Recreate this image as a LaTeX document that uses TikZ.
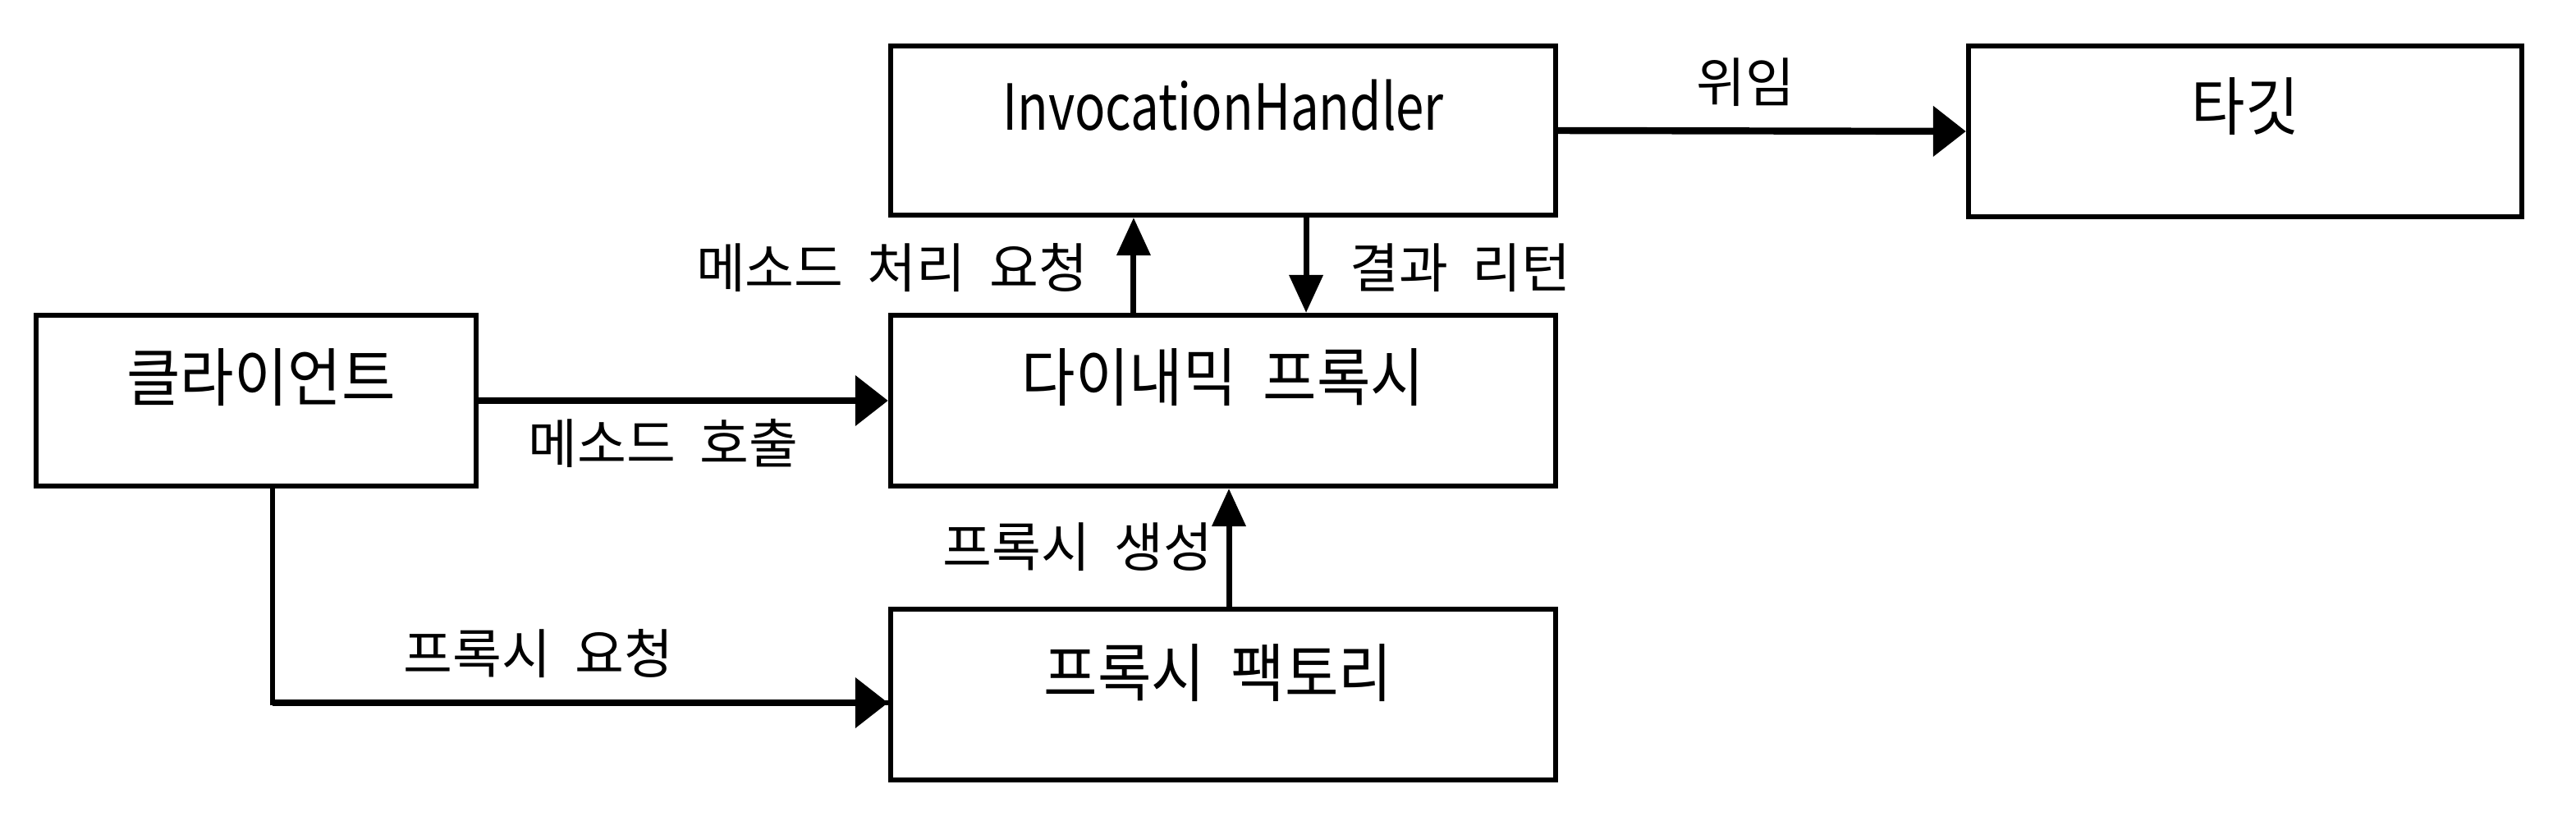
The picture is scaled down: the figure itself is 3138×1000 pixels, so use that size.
\documentclass[tikz,border=0pt]{standalone}
\usepackage{fontspec}
\usepackage{graphicx}
\setmainfont{Noto Sans CJK KR}[WordSpace=2]
\usetikzlibrary{arrows.meta}
\newcommand{\sqk}[1]{\scalebox{0.92}[1]{#1}}
\newcommand{\sql}[1]{\scalebox{0.8}[1]{#1}}
\tikzset{
  boxnode/.style={draw, line width=1.7pt, minimum width=#1, inner sep=0pt},
  boxtext/.style={font=\fontsize{22}{24}\selectfont, inner sep=0pt},
  edgetext/.style={font=\fontsize{18.5}{20}\selectfont, inner sep=0pt},
  harrow/.style={line width=2.4pt, -{Triangle[length=0.4cm, width=0.6cm]}},
  varrow/.style={line width=2.0pt, -{Triangle[length=0.46cm, width=0.4cm]}},
  plainline/.style={line width=1.8pt},
}
\begin{document}
\begin{tikzpicture}[x=0.01cm, y=-0.01cm]
\useasboundingbox (0,0) rectangle (3138,1000);
% boxes
\node[boxnode=8.1cm, minimum height=2.06cm] (ih) at (1490,159) {};
\node[boxnode=6.74cm, minimum height=2.08cm] (tg) at (2735,160) {};
\node[boxnode=5.36cm, minimum height=2.08cm] (cl) at (312,488) {};
\node[boxnode=8.1cm, minimum height=2.08cm] (dp) at (1490,488) {};
\node[boxnode=8.1cm, minimum height=2.08cm] (pf) at (1490,846) {};
% box texts
\node[boxtext] (ihT) at (1490,128) {\sql{InvocationHandler}};
\node[boxtext] (tgT) at (2735,130) {\sqk{타깃}};
\node[boxtext] (clT) at (318,460) {\sqk{클라이언트}};
\node[boxtext] (dpT) at (1490,460) {\sqk{다이내믹 프록시}};
\node[boxtext] (pfT) at (1484,820) {\sqk{프록시 팩토리}};
% connectors
\draw[harrow] (ih.east) -- (tg.west);
\draw[harrow] (cl.east) -- (dp.west);
\coordinate (clDown) at ([xshift=0.2cm]cl.south);
\draw[plainline] (clDown) |- ([yshift=-0.1cm]pf.west);
\draw[harrow] ([yshift=-0.1cm]pf.west -| clDown) -- ([yshift=-0.1cm]pf.west);
\draw[varrow] ([xshift=-1.09cm]dp.north) -- ([xshift=-1.09cm]dp.north |- ih.south);
\draw[varrow] ([xshift=1.01cm]ih.south) -- ([xshift=1.01cm]ih.south |- dp.north);
\draw[varrow] ([xshift=0.07cm]pf.north) -- ([xshift=0.07cm]pf.north |- dp.south);
% edge labels
\node[edgetext] (l1) at (2126,100) {위임};
\node[edgetext] (l2) at (808,540) {메소드 호출};
\node[edgetext] (l3) at (656,796) {프록시 요청};
\node[edgetext, anchor=east] (l4) at (1326,326) {메소드 처리 요청};
\node[edgetext, anchor=west] (l5) at (1644,326) {결과 리턴};
\node[edgetext, anchor=east] (l6) at (1478,666) {프록시 생성};
\end{tikzpicture}
\end{document}
